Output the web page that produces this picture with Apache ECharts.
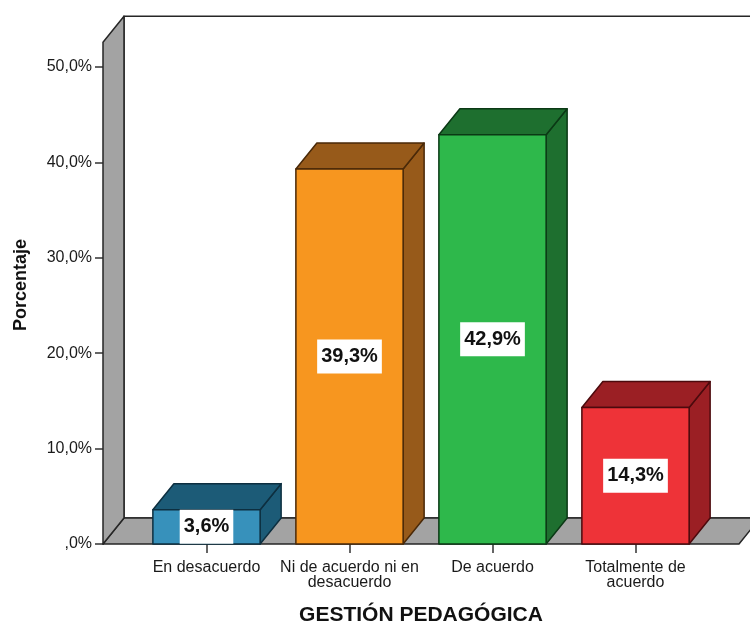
<!DOCTYPE html>
<html>
<head>
<meta charset="utf-8">
<script src="https://cdn.jsdelivr.net/npm/echarts@6/dist/echarts.min.js"></script>
<style>
  html, body { margin: 0; padding: 0; background: #fff; }
  #chart { width: 750px; height: 623px; }
</style>
</head>
<body>
<div id="chart"></div>
<script>
// Categories (tick labels) and percentage values
const categories = ['En desacuerdo', 'Ni de acuerdo ni en\ndesacuerdo', 'De acuerdo', 'Totalmente de\nacuerdo'];
const percentages = [3.6, 39.3, 42.9, 14.3];

// Value axis range
const yMin = 0;
const yMax = 50;
const yStep = 10;
const wallTop = 52.6;   // height reached by the side/back walls

// Bar colours: front face, top/side shading, outline
const faceColors = ['#3791bb', '#f7961f', '#2eb84b', '#ee3338'];
const shadeColors = ['#1c5b77', '#975a1a', '#1e6f2f', '#9b1f24'];
const edgeColors = ['#0d2f40', '#4a2908', '#0b3915', '#4c0a0d'];

// 3D projection of the depth axis (pixels)
const DX = 21, DY = 26;
const BAR_RATIO = 0.75;
const SIDE_PAD = 32;
const FONT = '"Liberation Sans", Arial, sans-serif';

function fmtPct(v) {
  return v === 0 ? ',0%' : v.toFixed(1).replace('.', ',') + '%';
}

const chart = echarts.init(document.getElementById('chart'), null, { renderer: 'canvas' });

function renderWalls(params, api) {
  const bw = api.size([1, 0])[0];
  const first = api.coord([0, 0]);
  const last = api.coord([categories.length - 1, 0]);
  const yBase = first[1];
  const yTop = api.coord([0, wallTop])[1];
  const left = first[0] - bw / 2 - SIDE_PAD;
  const right = last[0] + bw / 2 + SIDE_PAD;
  const stroke = '#262626';
  return {
    type: 'group',
    children: [
      { type: 'polygon', shape: { points: [[left + DX, yTop - DY], [right + DX, yTop - DY], [right + DX, yBase - DY], [left + DX, yBase - DY]] },
        style: { fill: '#ffffff', stroke: stroke, lineWidth: 1.5 } },
      { type: 'polygon', shape: { points: [[left, yBase], [right, yBase], [right + DX, yBase - DY], [left + DX, yBase - DY]] },
        style: { fill: '#a3a3a3', stroke: stroke, lineWidth: 1.5, lineJoin: 'round' } },
      { type: 'polygon', shape: { points: [[left, yBase], [left + DX, yBase - DY], [left + DX, yTop - DY], [left, yTop]] },
        style: { fill: '#a3a3a3', stroke: stroke, lineWidth: 1.5, lineJoin: 'round' } }
    ]
  };
}

function renderBar(params, api) {
  const i = api.value(0);
  const v = api.value(1);
  const topPt = api.coord([i, v]);
  const basePt = api.coord([i, 0]);
  const w = api.size([1, 0])[0] * BAR_RATIO;
  const x0 = topPt[0] - w / 2, x1 = topPt[0] + w / 2;
  const yt = topPt[1], yb = basePt[1];
  const edge = { stroke: edgeColors[i], lineWidth: 1.5, lineJoin: 'round' };
  return {
    type: 'group',
    children: [
      { type: 'polygon', shape: { points: [[x1, yt], [x1 + DX, yt - DY], [x1 + DX, yb - DY], [x1, yb]] },
        style: Object.assign({ fill: shadeColors[i] }, edge) },
      { type: 'polygon', shape: { points: [[x0, yt], [x1, yt], [x1 + DX, yt - DY], [x0 + DX, yt - DY]] },
        style: Object.assign({ fill: shadeColors[i] }, edge) },
      { type: 'rect', shape: { x: x0, y: yt, width: w, height: yb - yt },
        style: Object.assign({ fill: faceColors[i] }, edge) },
      { type: 'text', z2: 10,
        style: { text: fmtPct(v), x: topPt[0], y: (yt + yb) / 2, align: 'center', verticalAlign: 'middle',
                 font: 'bold 20px ' + FONT, fill: '#111', backgroundColor: '#ffffff',
                 padding: [7, 4, 7, 4], lineHeight: 20 } }
    ]
  };
}

const option = {
  backgroundColor: '#ffffff',
  animation: false,
  grid: { left: 135, right: 43, top: 67, bottom: 79, containLabel: false, outerBoundsMode: 'none' },
  xAxis: {
    type: 'category',
    data: categories,
    name: 'GESTIÓN PEDAGÓGICA',
    nameLocation: 'middle',
    nameGap: 61,
    nameTextStyle: { fontFamily: FONT, fontSize: 21, fontWeight: 'bold', color: '#111' },
    axisLine: { show: false },
    axisTick: { show: true, alignWithLabel: true, length: 9, lineStyle: { color: '#333', width: 1.5 } },
    axisLabel: { fontFamily: FONT, fontSize: 16, color: '#1a1a1a', margin: 16, lineHeight: 15, interval: 0 },
    splitLine: { show: false }
  },
  yAxis: {
    type: 'value',
    min: yMin,
    max: yMax,
    interval: yStep,
    offset: 31,
    axisLine: { show: false },
    axisTick: { show: true, length: 9, lineStyle: { color: '#333', width: 1.5 } },
    axisLabel: { fontFamily: FONT, fontSize: 16, color: '#1a1a1a', margin: 12, formatter: fmtPct },
    splitLine: { show: false }
  },
  graphic: [{
    type: 'text',
    x: 21, y: 285,
    rotation: Math.PI / 2,
    style: { text: 'Porcentaje', font: 'bold 18px ' + FONT, fill: '#111', align: 'center', verticalAlign: 'middle' }
  }],
  series: [
    {
      type: 'custom',
      z: 1,
      clip: false,
      silent: true,
      renderItem: renderWalls,
      data: [[0, 0]]
    },
    {
      type: 'custom',
      z: 3,
      clip: false,
      renderItem: renderBar,
      encode: { x: 0, y: 1 },
      data: percentages.map((v, i) => [i, v])
    }
  ]
};

chart.setOption(option);
</script>
</body>
</html>
